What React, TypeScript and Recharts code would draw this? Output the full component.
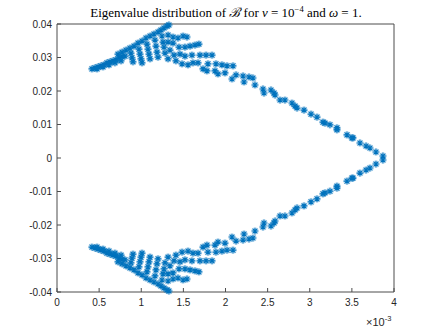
import { Scatter, ScatterChart, XAxis, YAxis } from "recharts";

type Pt = [number, number];

// upper half only, x in units of 1e-3; lower half are the conjugates
const TAIL: Pt[] = [
  [0.415, 0.0266], [0.451, 0.0269], [0.487, 0.0272], [0.522, 0.0275],
  [0.558, 0.0278], [0.593, 0.0284], [0.629, 0.0287], [0.665, 0.029],
  [0.7, 0.0293], [0.736, 0.0299], [0.772, 0.0302], [0.807, 0.0304],
  [0.475, 0.0266], [0.546, 0.0272], [0.617, 0.0278], [0.688, 0.0284],
  [0.76, 0.029],
];

const RIDGE: Pt[] = [
  [0.724, 0.031], [0.772, 0.0316], [0.819, 0.0322], [0.866, 0.0328],
  [0.914, 0.0334], [0.961, 0.0343], [1.009, 0.0349], [1.056, 0.0358],
  [1.104, 0.0364], [1.151, 0.037], [1.199, 0.0376], [1.234, 0.0382],
  [1.27, 0.0388], [1.306, 0.0394], [1.329, 0.0397],
];

const FAN_COLS: Pt[] = [
  [0.878, 0.0313], [0.89, 0.0299], [0.902, 0.0287],
  [0.973, 0.0325], [0.985, 0.031], [0.997, 0.0296], [1.009, 0.0284],
  [1.068, 0.034], [1.08, 0.0325], [1.092, 0.031], [1.104, 0.0296],
  [1.163, 0.0352], [1.175, 0.0334], [1.187, 0.0316], [1.199, 0.0301],
  [1.246, 0.0364], [1.258, 0.0346], [1.27, 0.0331], [1.282, 0.0313],
];

const FAN_ROWS: Pt[] = [
  [1.318, 0.0367], [1.377, 0.0361], [1.436, 0.0358], [1.496, 0.0364], [1.543, 0.0361],
  [1.318, 0.0346], [1.377, 0.0343], [1.448, 0.0331], [1.519, 0.0331], [1.579, 0.0334],
  [1.638, 0.0337], [1.685, 0.034],
  [1.341, 0.0322], [1.389, 0.0307], [1.46, 0.031], [1.519, 0.0304], [1.602, 0.0307],
  [1.697, 0.0307], [1.769, 0.0307], [1.84, 0.0307],
  [1.318, 0.0296], [1.412, 0.029], [1.484, 0.0281], [1.555, 0.0278], [1.614, 0.0284],
  [1.674, 0.0284], [1.733, 0.0266], [1.792, 0.0281], [1.887, 0.0281], [1.958, 0.0278],
  [2.018, 0.0275], [2.089, 0.0275],
  [1.78, 0.026], [1.875, 0.026], [1.911, 0.0251], [1.994, 0.0254], [2.077, 0.0236],
  [2.125, 0.0248], [2.208, 0.0245], [2.22, 0.0227], [2.279, 0.0242], [2.326, 0.0239],
  [2.35, 0.0218],
];

const MAIN: Pt[] = [
  [2.445, 0.0206], [2.457, 0.0194], [2.54, 0.0203], [2.576, 0.0194], [2.588, 0.0188],
  [2.647, 0.0173], [2.706, 0.0173], [2.789, 0.0164], [2.825, 0.0155], [2.849, 0.0149],
  [2.932, 0.0143], [3.015, 0.0131], [3.086, 0.0122], [3.157, 0.0107], [3.181, 0.0104],
  [3.24, 0.0099], [3.323, 0.009], [3.323, 0.0084], [3.442, 0.0069], [3.501, 0.006],
  [3.513, 0.006], [3.596, 0.0045], [3.668, 0.0036], [3.715, 0.003], [3.786, 0.0018],
  [3.869, 0.0006],
];

const X_TICKS = [0, 0.5, 1, 1.5, 2, 2.5, 3, 3.5, 4];
const Y_TICKS = [-0.04, -0.03, -0.02, -0.01, 0, 0.01, 0.02, 0.03, 0.04];
const Y_LABELS = ["-0.04", "-0.03", "-0.02", "-0.01", "0", "0.01", "0.02", "0.03", "0.04"];

const BLUE = "#0072BD";
const AXIS = "#4d4d4d";
const TEXT = "#262626";
const TICK = 4;
const SANS = "'Liberation Sans', Arial, sans-serif";

const upper = [...TAIL, ...RIDGE, ...FAN_COLS, ...FAN_ROWS, ...MAIN];
const points = upper.flatMap(([re, im]) => [
  { re, im },
  { re, im: -im },
]);

const Asterisk = (props: any) => {
  const { cx, cy } = props;
  const r = 3.4;
  const d = 2.4;
  return (
    <g>
      <circle cx={cx} cy={cy} r={3.8} fill={BLUE} fillOpacity={0.16} />
      <path
        d={`M${cx - r},${cy}H${cx + r}M${cx},${cy - r}V${cy + r}M${cx - d},${cy - d}L${cx + d},${cy + d}M${cx - d},${cy + d}L${cx + d},${cy - d}`}
        stroke={BLUE}
        strokeWidth={1.1}
      />
    </g>
  );
};

const BottomTick = ({ x, y, payload }: any) => (
  <g>
    <line x1={x} y1={y} x2={x} y2={y - TICK} stroke={AXIS} />
    <text x={x} y={y + 14} textAnchor="middle" fontSize={10} fill={TEXT} fontFamily={SANS}>
      {String(payload.value)}
    </text>
  </g>
);

const TopTick = ({ x, y }: any) => (
  <line x1={x} y1={y} x2={x} y2={y + TICK} stroke={AXIS} />
);

const LeftTick = ({ x, y, payload }: any) => (
  <g>
    <line x1={x} y1={y} x2={x + TICK} y2={y} stroke={AXIS} />
    <text x={x - 5} y={y + 3.5} textAnchor="end" fontSize={10} fill={TEXT} fontFamily={SANS}>
      {Y_LABELS[Y_TICKS.indexOf(payload.value)] ?? String(payload.value)}
    </text>
  </g>
);

const RightTick = ({ x, y }: any) => (
  <line x1={x} y1={y} x2={x - TICK} y2={y} stroke={AXIS} />
);

export default function App() {
  return (
    <div style={{ position: "absolute", left: 0, top: 0, width: 436, height: 327, background: "#fff" }}>
      <div
        style={{
          position: "absolute",
          left: 0,
          top: 3,
          width: 452,
          textAlign: "center",
          fontFamily: "'Liberation Serif', 'DejaVu Serif', serif",
          fontSize: 13,
          color: "#000",
          whiteSpace: "nowrap",
        }}
      >
        Eigenvalue distribution of <span style={{ fontStyle: "italic" }}>ℬ</span> for{" "}
        <span style={{ fontStyle: "italic" }}>ν</span> = 10
        <sup style={{ fontSize: 8.5 }}>−4</sup> and <span style={{ fontStyle: "italic" }}>ω</span> = 1.
      </div>
      <ScatterChart width={436} height={327} margin={{ top: 23, right: 41, bottom: 15, left: 17 }}>
        <XAxis
          dataKey="re"
          type="number"
          domain={[0, 4]}
          ticks={X_TICKS}
          height={20}
          tickSize={0}
          tickMargin={0}
          tickLine={false}
          axisLine={{ stroke: AXIS }}
          tick={BottomTick}
          interval={0}
        />
        <XAxis
          xAxisId="top"
          orientation="top"
          dataKey="re"
          type="number"
          domain={[0, 4]}
          ticks={X_TICKS}
          height={1}
          tickSize={0}
          tickMargin={0}
          tickLine={false}
          axisLine={{ stroke: AXIS }}
          tick={TopTick}
          interval={0}
        />
        <YAxis
          dataKey="im"
          type="number"
          domain={[-0.04, 0.04]}
          ticks={Y_TICKS}
          width={40}
          tickSize={0}
          tickMargin={0}
          tickLine={false}
          axisLine={{ stroke: AXIS }}
          tick={LeftTick}
          interval={0}
        />
        <YAxis
          yAxisId="right"
          orientation="right"
          dataKey="im"
          type="number"
          domain={[-0.04, 0.04]}
          ticks={Y_TICKS}
          width={1}
          tickSize={0}
          tickMargin={0}
          tickLine={false}
          axisLine={{ stroke: AXIS }}
          tick={RightTick}
          interval={0}
        />
        <Scatter data={points} dataKey="im" shape={Asterisk} isAnimationActive={false} />
      </ScatterChart>
      <div
        style={{
          position: "absolute",
          left: 366,
          top: 314,
          fontFamily: SANS,
          fontSize: 11,
          color: TEXT,
          whiteSpace: "nowrap",
        }}
      >
        ×10<sup style={{ fontSize: 7.5 }}>-3</sup>
      </div>
    </div>
  );
}
